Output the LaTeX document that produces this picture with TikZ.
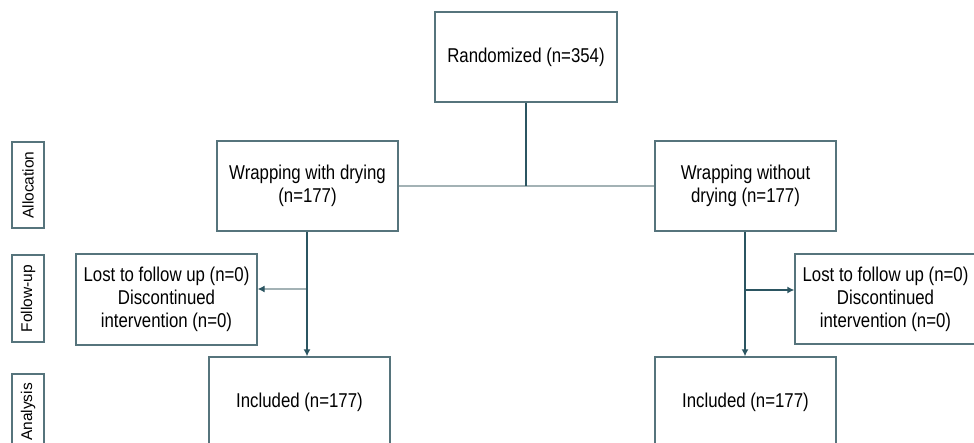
\documentclass[tikz,border=0pt]{standalone}
\usepackage{fontspec}
\setmainfont[FakeStretch=0.84]{Liberation Sans}
\newfontfamily\labelfont{Liberation Sans}
\usetikzlibrary{arrows.meta}
\definecolor{boxc}{HTML}{56747C}
\definecolor{darkl}{HTML}{2B5561}
\definecolor{lightl}{HTML}{A3B2B5}
\begin{document}
\begin{tikzpicture}[x=1pt,y=1pt,
  mainbox/.style={draw=boxc,line width=1.3pt,rectangle,minimum width=181pt,minimum height=90pt,
    inner sep=0pt,align=center,font=\fontsize{20}{23}\selectfont,text=black},
  stagebox/.style={draw=boxc,line width=1.1pt,rectangle,minimum width=32pt,
    inner sep=0pt,rotate=90,font=\labelfont\fontsize{15.5}{16}\selectfont,text=black},
  darkarrow/.style={draw=darkl,line width=1.4pt,-{Latex[length=7pt,width=7pt]}},
  lightarrow/.style={draw=lightl,line width=1.2pt,-{Latex[length=7pt,width=7pt,color=darkl]}},
  darkline/.style={draw=darkl,line width=1.4pt},
  lightline/.style={draw=lightl,line width=1.2pt}]
\clip (0,0) rectangle (974,-443);
% stage labels
\node[stagebox,minimum height=32pt,minimum width=86pt] (alloc) at (28,-185) {Allocation};
\node[stagebox,minimum height=32pt,minimum width=87pt] (follow) at (28,-298.5) {Follow-up};
\node[stagebox,minimum height=32pt,minimum width=76pt] (analysis) at (28,-412) {Analysis};
% main boxes
\node[mainbox,minimum width=182pt] (rand) at (526,-57) {Randomized (n=354)};
\node[mainbox] (wrap1) at (307.5,-186) {Wrapping with drying\\(n=177)};
\node[mainbox] (wrap2) at (745.5,-186) {Wrapping without\\drying (n=177)};
\node[mainbox,minimum height=91pt] (lost1) at (166.5,-299.5) {Lost to follow up (n=0)\\Discontinued\\intervention (n=0)};
\node[mainbox] (lost2) at (885.5,-299) {Lost to follow up (n=0)\\Discontinued\\intervention (n=0)};
\node[mainbox] (inc1) at (299.5,-402) {Included (n=177)};
\node[mainbox] (inc2) at (745.5,-402) {Included (n=177)};
% connectors
\coordinate (split) at (rand.south |- wrap1.east);
\draw[lightline] (wrap1.east) -- (wrap2.west);
\draw[darkline] (rand.south) -- (split);
\coordinate (b1) at (307,-289);
\coordinate (b2) at (745,-290);
\draw[lightarrow] (b1) -- (lost1.east |- b1);
\draw[darkarrow] (b2) -- (lost2.west |- b2);
\draw[darkarrow] (wrap1.south -| b1) -- (b1 |- inc1.north);
\draw[darkarrow] (wrap2.south -| b2) -- (b2 |- inc2.north);
\end{tikzpicture}
\end{document}
